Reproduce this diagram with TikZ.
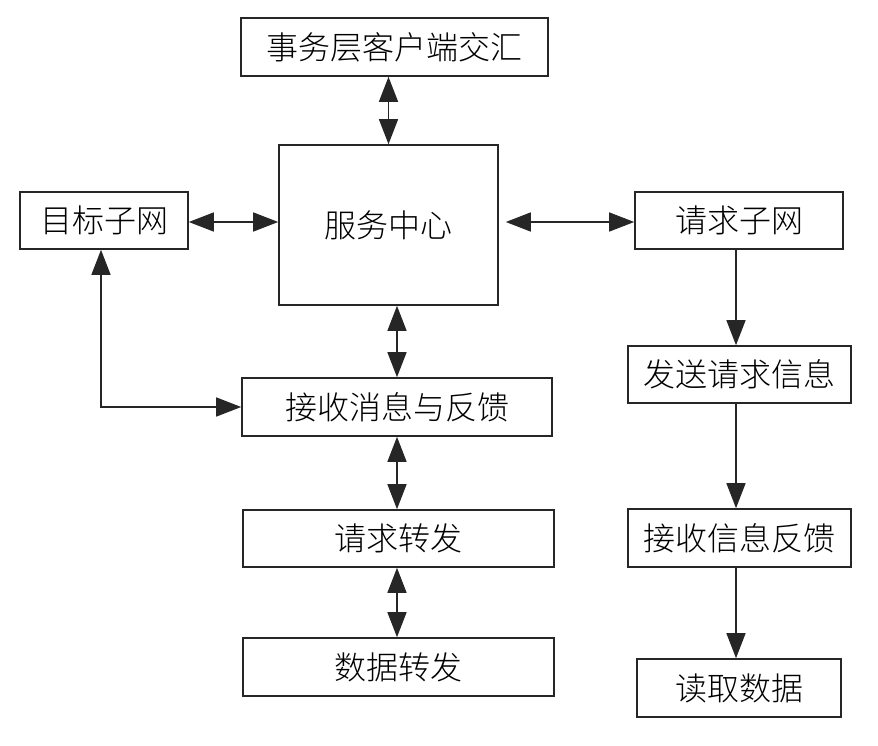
\documentclass[tikz,border=0pt]{standalone}
\usepackage{fontspec}
\newfontfamily\cjk{Noto Sans CJK SC Light}
\usetikzlibrary{arrows.meta}
\begin{document}
\begin{tikzpicture}[x=1pt,y=-1pt,
  box/.style={draw=black!85, line width=1.6pt, inner sep=0pt, minimum height=57pt,
    font=\cjk\fontsize{32}{32}\selectfont},
  conn/.style={draw=black!85, line width=1.4pt,
    {Triangle[length=25pt,width=19pt]}-{Triangle[length=25pt,width=19pt]}},
  oneway/.style={draw=black!85, line width=1.4pt, -{Triangle[length=25pt,width=19pt]}}]
\path[use as bounding box, fill=white] (0,0) rectangle (878,746);

\node[box, minimum width=307pt, minimum height=58pt] (top) at (394.5,47) {事务层客户端交汇};
\node[box, minimum width=219pt, minimum height=160pt] (svc) at (388.5,225) {服务中心};
\node[box, minimum width=168pt] (tgt) at (104,220.5) {目标子网};
\node[box, minimum width=208pt] (req) at (739,220.5) {请求子网};
\node[box, minimum width=310pt, minimum height=58pt] (recv) at (397,407) {接收消息与反馈};
\node[box, minimum width=311pt] (fwd) at (398.5,538.5) {请求转发};
\node[box, minimum width=311pt, minimum height=58pt] (data) at (398.5,667) {数据转发};
\node[box, minimum width=223pt] (send) at (739.5,374.5) {发送请求信息};
\node[box, minimum width=223pt, minimum height=58pt] (rinfo) at (739.5,538) {接收信息反馈};
\node[box, minimum width=204pt, minimum height=58pt] (read) at (739,688) {读取数据};

\draw[conn] (top.south -| svc.north) -- (svc.north);
\draw[conn] (svc.south -| recv.north) -- (recv.north);
\draw[conn] (recv.south) -- (recv.south |- fwd.north);
\draw[conn] (fwd.south -| recv.south) -- (data.north -| recv.south);
\draw[conn] ([yshift=-1.5pt]tgt.east) -- ([yshift=-1.5pt]tgt.east -| svc.west);
\draw[conn, shorten <=7pt] ([yshift=-1.5pt]req.west -| svc.east) -- ([yshift=-1.5pt]req.west);
\coordinate (corner) at ([xshift=-3pt]tgt.south |- recv.west);
\draw[conn] ([xshift=-3pt]tgt.south) -- (corner) -- (recv.west);
\draw[oneway] ([xshift=-3pt]req.south) -- ([xshift=-3pt]req.south |- send.north);
\draw[oneway] ([xshift=-3pt]req.south |- send.south) -- ([xshift=-3pt]req.south |- rinfo.north);
\draw[oneway] ([xshift=-3pt]req.south |- rinfo.south) -- ([xshift=-3pt]req.south |- read.north);
\end{tikzpicture}
\end{document}
